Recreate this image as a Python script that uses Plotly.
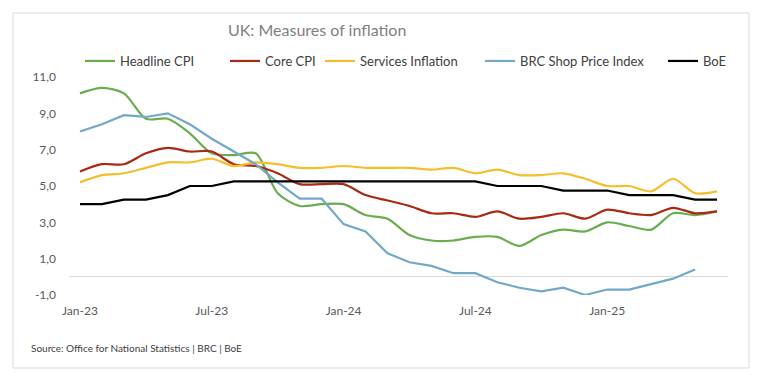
import plotly.graph_objects as go

months = ["Jan-23", "Feb-23", "Mar-23", "Apr-23", "May-23", "Jun-23", "Jul-23", "Aug-23", "Sep-23", "Oct-23",
          "Nov-23", "Dec-23", "Jan-24", "Feb-24", "Mar-24", "Apr-24", "May-24", "Jun-24", "Jul-24", "Aug-24",
          "Sep-24", "Oct-24", "Nov-24", "Dec-24", "Jan-25", "Feb-25", "Mar-25", "Apr-25", "May-25", "Jun-25"]

headline_cpi = [10.1, 10.4, 10.1, 8.7, 8.7, 7.9, 6.8, 6.7, 6.8, 4.6, 3.9, 4.0, 4.0, 3.4, 3.2, 2.3, 2.0, 2.0,
                2.2, 2.2, 1.7, 2.3, 2.6, 2.5, 3.0, 2.8, 2.6, 3.5, 3.4, 3.6]
core_cpi = [5.8, 6.2, 6.2, 6.8, 7.1, 6.9, 6.9, 6.2, 6.1, 5.7, 5.1, 5.1, 5.1, 4.5, 4.2, 3.9, 3.5, 3.5,
            3.3, 3.6, 3.2, 3.3, 3.5, 3.2, 3.7, 3.5, 3.4, 3.8, 3.5, 3.6]
services_inflation = [5.2, 5.6, 5.7, 6.0, 6.3, 6.3, 6.5, 6.1, 6.3, 6.2, 6.0, 6.0, 6.1, 6.0, 6.0, 6.0, 5.9, 6.0,
                      5.7, 5.9, 5.6, 5.6, 5.7, 5.4, 5.0, 5.0, 4.7, 5.4, 4.6, 4.7]
brc_shop_price = [8.0, 8.4, 8.9, 8.8, 9.0, 8.4, 7.6, 6.9, 6.2, 5.2, 4.3, 4.3, 2.9, 2.5, 1.3, 0.8, 0.6, 0.2,
                  0.2, -0.3, -0.6, -0.8, -0.6, -1.0, -0.7, -0.7, -0.4, -0.1, 0.4, None]
boe_rate = [4.0, 4.0, 4.25, 4.25, 4.5, 5.0, 5.0, 5.25, 5.25, 5.25, 5.25, 5.25, 5.25, 5.25, 5.25, 5.25, 5.25,
            5.25, 5.25, 5.0, 5.0, 5.0, 4.75, 4.75, 4.75, 4.5, 4.5, 4.5, 4.25, 4.25]

x_ticks = ["Jan-23", "Jul-23", "Jan-24", "Jul-24", "Jan-25"]
y_ticks = [-1, 1, 3, 5, 7, 9, 11]
y_tick_text = ["-1,0", "1,0", "3,0", "5,0", "7,0", "9,0", "11,0"]

FONT = "Lato, 'Open Sans', sans-serif"

PLOT_L, PLOT_W, PLOT_B, PLOT_H = 69, 659, 295, 218

series = [
    ("Headline CPI", headline_cpi, "#6aad4f", "spline", 87),
    ("Core CPI", core_cpi, "#a92a12", "spline", 232),
    ("Services Inflation", services_inflation, "#f3bf2c", "spline", 327),
    ("BRC Shop Price Index", brc_shop_price, "#72a9c8", "linear", 487),
    ("BoE", boe_rate, "#000000", "linear", 670),
]

fig = go.Figure()
legend_layout = {}
for k, (name, vals, color, shape, lx) in enumerate(series):
    lname = "legend" if k == 0 else f"legend{k + 1}"
    fig.add_trace(go.Scatter(
        x=months, y=vals, name=name, mode="lines",
        line=dict(color=color, width=2.2, shape=shape, smoothing=0.8 if shape == "spline" else None),
        connectgaps=False, legend=lname,
    ))
    legend_layout[lname] = dict(
        orientation="h", x=(lx - 7 - PLOT_L) / PLOT_W, xanchor="left",
        y=(PLOT_B - 61) / PLOT_H, yanchor="middle",
        font=dict(family=FONT, size=13, color="#404040"), bgcolor="rgba(0,0,0,0)",
    )

fig.update_layout(
    width=772, height=385,
    margin=dict(l=PLOT_L, r=772 - PLOT_L - PLOT_W, t=PLOT_B - PLOT_H, b=385 - PLOT_B, autoexpand=False),
    paper_bgcolor="white", plot_bgcolor="white",
    font=dict(family=FONT, color="#595959", size=12),
    title=dict(text="UK: Measures of inflation", x=228 / 772, xanchor="left", y=1 - 30 / 385, yanchor="middle",
               font=dict(family=FONT, size=16, color="#808080")),
    showlegend=True,
    **legend_layout,
)
fig.update_xaxes(type="category", range=[-0.5, 29.5], tickmode="array", tickvals=x_ticks, ticktext=x_ticks,
                 showgrid=False, showline=False, ticks="", zeroline=False, ticklabelstandoff=7,
                 tickfont=dict(family=FONT, size=12, color="#595959"))
fig.update_yaxes(range=[-1, 11], tickmode="array", tickvals=y_ticks, ticktext=y_tick_text, showgrid=False,
                 showline=False, ticks="", zeroline=True, zerolinecolor="#d9d9d9", zerolinewidth=1,
                 ticklabelstandoff=12, tickfont=dict(family=FONT, size=12, color="#595959"))

# outer frame
fig.add_shape(type="rect", xref="paper", yref="paper",
              x0=(13 - PLOT_L) / PLOT_W, x1=(749 - PLOT_L) / PLOT_W,
              y0=(PLOT_B - 368) / PLOT_H, y1=(PLOT_B - 13) / PLOT_H,
              line=dict(color="#d9d9d9", width=1), fillcolor="rgba(0,0,0,0)", layer="below")

fig.add_annotation(text="Source: Office for National Statistics | BRC | BoE", xref="paper", yref="paper",
                   x=(29 - PLOT_L) / PLOT_W, y=(PLOT_B - 348) / PLOT_H, xanchor="left", yanchor="middle",
                   showarrow=False, font=dict(family=FONT, size=10, color="#404040"))

fig.write_html("out.html", config={"displayModeBar": False},
               post_script="document.body.style.margin='0px';")
